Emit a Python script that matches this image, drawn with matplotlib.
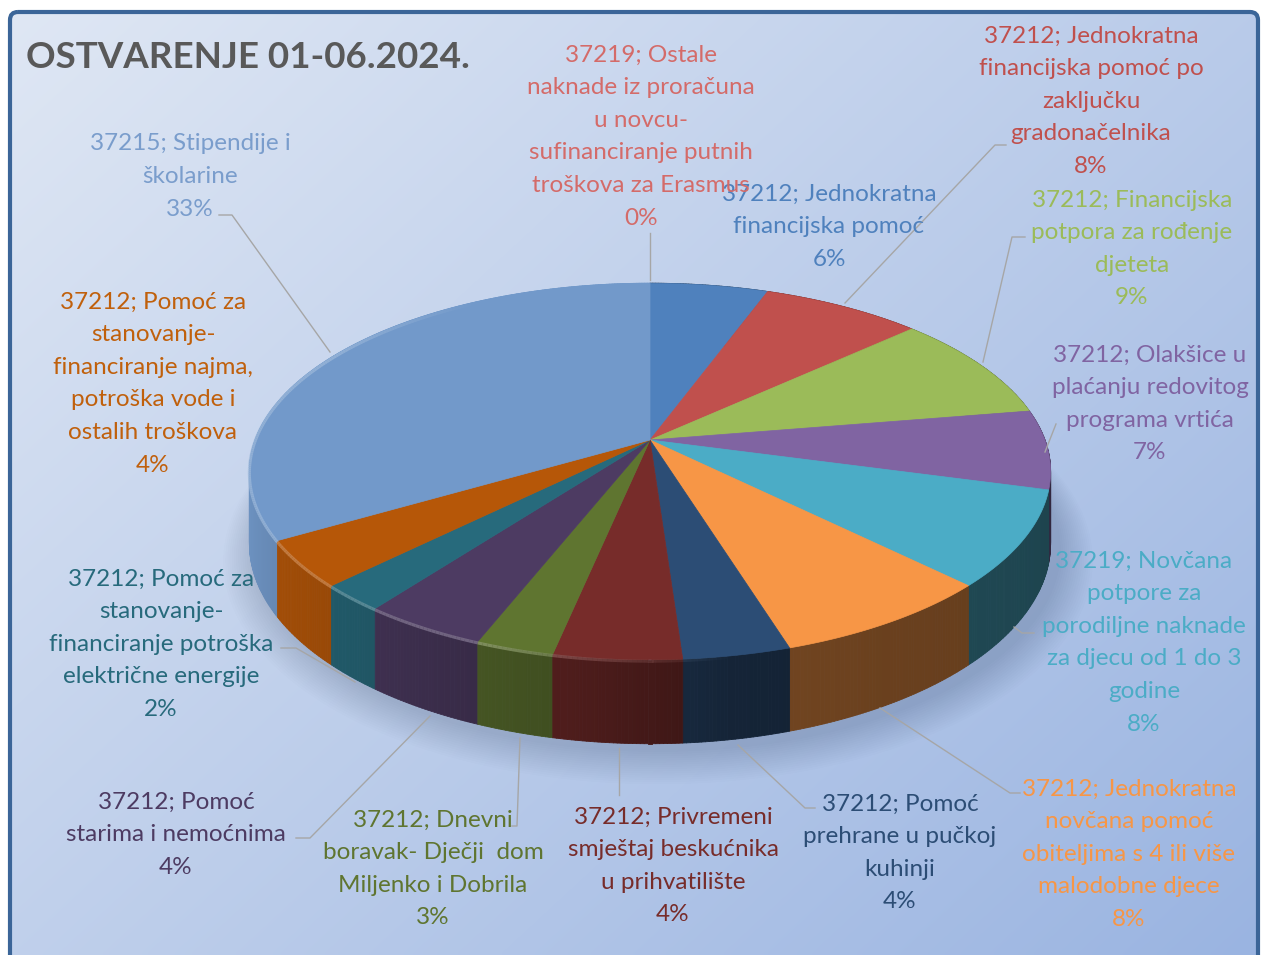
import numpy as np
import matplotlib
matplotlib.use("Agg")
import matplotlib.pyplot as plt
from matplotlib.patches import Polygon, FancyBboxPatch
from matplotlib.collections import PolyCollection, LineCollection
import matplotlib.colors as mcolors

# ---------------- data ----------------
categories = [
    "37212; Jednokratna\nfinancijska pomoć",
    "37212; Jednokratna\nfinancijska pomoć po\nzaključku\ngradonačelnika",
    "37212; Financijska\npotpora za rođenje\ndjeteta",
    "37212; Olakšice u\nplaćanju redovitog\nprograma vrtića",
    "37219; Novčana\npotpore za\nporodiljne naknade\nza djecu od 1 do 3\ngodine",
    "37212; Jednokratna\nnovčana pomoć\nobiteljima s 4 ili više\nmalodobne djece",
    "37212; Pomoć\nprehrane u pučkoj\nkuhinji",
    "37212; Privremeni\nsmještaj beskućnika\nu prihvatilište",
    "37212; Dnevni\nboravak- Dječji  dom\nMiljenko i Dobrila",
    "37212; Pomoć\nstarima i nemoćnima",
    "37212; Pomoć za\nstanovanje-\nfinanciranje potroška\nelektrične energije",
    "37212; Pomoć za\nstanovanje-\nfinanciranje najma,\npotroška vode i\nostalih troškova",
    "37215; Stipendije i\nškolarine",
    "37219; Ostale\nnaknade iz proračuna\nu novcu-\nsufinanciranje putnih\ntroškova za Erasmus",
]
# shares in percent (consistent with the printed labels)
values = [5.6, 7.6, 9.2, 6.8, 8.2, 7.8, 3.7, 4.4, 2.7, 4.3, 2.3, 4.0, 33.4, 0.0]
title = "OSTVARENJE 01-06.2024."

# ---------------- styles / layout ----------------
colors = ['#4F81BD', '#C0504D', '#9BBB59', '#8064A2', '#4BACC6', '#F79646',
          '#2C4D75', '#772C2A', '#5F7530', '#4D3B62', '#276A7C', '#B65708',
          '#7299CA', '#D46B69']
text_colors = ['#4F81BD', '#C0504D', '#9BBB59', '#8064A2', '#4BACC6', '#F79646',
               '#2C4D75', '#772C2A', '#5F7530', '#4D3B62', '#276A7C', '#C0600C',
               '#7A9DCC', '#D46B69']
label_pos = [(829, 192), (1091, 34), (1132, 198), (1150, 353), (1144, 559),
             (1129, 787), (900, 802), (673, 815), (433, 818), (176, 800),
             (161, 577), (153, 300), (190, 142), (641, 53)]
leaders = [
    None,
    [(845, 303), (995, 145), (1006, 145)],
    [(983, 362), (1012, 237), (1025, 237)],
    [(1045, 452), (1056, 424)],
    [(1014, 627), (1022, 633), (1034, 633)],
    [(880, 708), (1010, 793), (1020, 793)],
    [(738, 745), (805, 808), (815, 808)],
    [(619, 748), (619, 795)],
    [(520, 738), (517, 826), (512, 826)],
    [(430, 716), (310, 838), (296, 838)],
    [(355, 682), (296, 648), (281, 648)],
    None,
    [(330, 352), (232, 215), (219, 215)],
    [(650, 280), (650, 233)],
]
pitch = 32.6
fs = 17.5
FONT = ['Lato', 'DejaVu Sans']

W, H = 1263, 955
fig = plt.figure(figsize=(W / 100, H / 100), dpi=100, facecolor='white')
ax = fig.add_axes([0, 0, 1, 1])
ax.set_xlim(0, W)
ax.set_ylim(H, 0)
ax.axis('off')

# background gradient inside frame
yy, xx = np.mgrid[0:1:200j, 0:1:260j]
t = 0.55 * xx + 0.45 * yy
c0 = np.array(mcolors.to_rgb('#DFE7F4'))
c1 = np.array(mcolors.to_rgb('#9AB4E1'))
grad = c0[None, None, :] * (1 - t[..., None]) + c1[None, None, :] * t[..., None]
im = ax.imshow(grad, extent=[10, 1258, H, 12], aspect='auto', zorder=0, interpolation='bilinear')
clip = FancyBboxPatch((10, 12), 1248, 1000, boxstyle="round,pad=0,rounding_size=8",
                      transform=ax.transData, facecolor='none', edgecolor='none')
ax.add_patch(clip)
im.set_clip_path(clip)
ax.add_patch(FancyBboxPatch((10, 12), 1248, 1000, boxstyle="round,pad=0,rounding_size=8",
                            facecolor='none', edgecolor='#3B6598', lw=3.0, zorder=20))

# ---------------- 3D pie (perspective) ----------------
cx, cy = 650, 440
a, b, k = 395, 183, 0.167
h0 = 70


def proj(phi, low=False):
    X = np.sin(phi)
    Y = -np.cos(phi)
    d = 1 - k * Y
    sx = cx + a * X / d
    sy = cy + b * Y / d
    if low:
        sy = sy + h0 / d
    return sx, sy


def shade(phi):
    deg = np.degrees(phi) % 360
    return np.interp(deg, [0, 90, 150, 170, 190, 215, 250, 270, 360],
                     [0.38, 0.38, 0.43, 0.47, 0.66, 0.8, 0.93, 1.0, 1.0])


total = float(sum(values))
fracs = np.array(values) / total
bounds = np.concatenate([[0], np.cumsum(fracs)]) * 2 * np.pi

# soft shadow
ph = np.linspace(0, 2 * np.pi, 400)
for g in np.linspace(2, 34, 16):
    sx, sy = proj(ph, low=True)
    sxx = cx + 8 + (sx - cx) * (1 + g / 400)
    syy = cy + 6 + (sy - cy) * (1 + g / 300)
    ax.fill(sxx, syy, color='#1F3050', alpha=0.012, lw=0, zorder=1)

# walls
quads, qcols, depth = [], [], []
for i, v in enumerate(values):
    if v <= 0:
        continue
    th0, th1 = bounds[i], bounds[i + 1]
    n = max(4, int((th1 - th0) / 0.008))
    phs = np.linspace(th0, th1, n + 1)
    base = np.array(mcolors.to_rgb(colors[i]))
    for j in range(n):
        p0, p1 = phs[j], phs[j + 1]
        x0, y0 = proj(p0)
        x1, y1 = proj(p1)
        x0b, y0b = proj(p0, True)
        x1b, y1b = proj(p1, True)
        pm = 0.5 * (p0 + p1)
        col = np.clip(base * shade(pm), 0, 1)
        quads.append([(x0, y0), (x1, y1), (x1b, y1b), (x0b, y0b)])
        qcols.append(col)
        depth.append(-np.cos(pm))
order = np.argsort(depth)
ax.add_collection(PolyCollection([quads[o] for o in order],
                                 facecolors=[qcols[o] for o in order],
                                 edgecolors=[qcols[o] for o in order],
                                 linewidths=0.6, zorder=2))

# top faces
for i, v in enumerate(values):
    th0, th1 = bounds[i], bounds[i + 1]
    if v <= 0:
        continue
    phs = np.linspace(th0, th1, max(3, int((th1 - th0) / 0.005)))
    xs, ys = proj(phs)
    pts = np.column_stack([np.r_[cx, xs], np.r_[cy, ys]])
    ax.add_patch(Polygon(pts, closed=True, facecolor=colors[i], edgecolor=colors[i],
                         lw=0.5, zorder=3))

# bevel rim highlight on the lit (left/front) edge
segs, scols = [], []
for i, v in enumerate(values):
    if v <= 0:
        continue
    th0, th1 = bounds[i], bounds[i + 1]
    phs = np.linspace(th0, th1, max(3, int((th1 - th0) / 0.01)))
    xs, ys = proj(phs)
    base = np.array(mcolors.to_rgb(colors[i]))
    for j in range(len(phs) - 1):
        deg = np.degrees(0.5 * (phs[j] + phs[j + 1]))
        w = np.clip(np.interp(deg, [170, 200, 300, 330], [0, 1, 1, 0]), 0, 1)
        if w <= 0:
            continue
        c = base + (1 - base) * 0.3
        segs.append([(xs[j], ys[j] + 1.5), (xs[j + 1], ys[j + 1] + 1.5)])
        scols.append((*c, 0.75 * w))
ax.add_collection(LineCollection(segs, colors=scols, linewidths=2.2, zorder=4,
                                 capstyle='butt'))

# ---------------- labels ----------------
for i, cat in enumerate(categories):
    pct = f"{round(values[i] / total * 100):.0f}%"
    lines = cat.split("\n") + [pct]
    x0, y0 = label_pos[i]
    for j, ln in enumerate(lines):
        ax.text(x0, y0 + 2 + j * pitch, ln, ha='center', va='center', fontsize=fs,
                color=text_colors[i], family=FONT, zorder=10)
    if leaders[i] is not None:
        lx, ly = zip(*leaders[i])
        ax.plot(lx, ly, color='#A6A6A6', lw=1.0, zorder=9)

ax.text(26, 57, title, ha='left', va='center', fontsize=26.5, fontweight='bold',
        color='#595959', family=FONT, zorder=10)

fig.savefig("out.png", dpi=100, facecolor='white')
